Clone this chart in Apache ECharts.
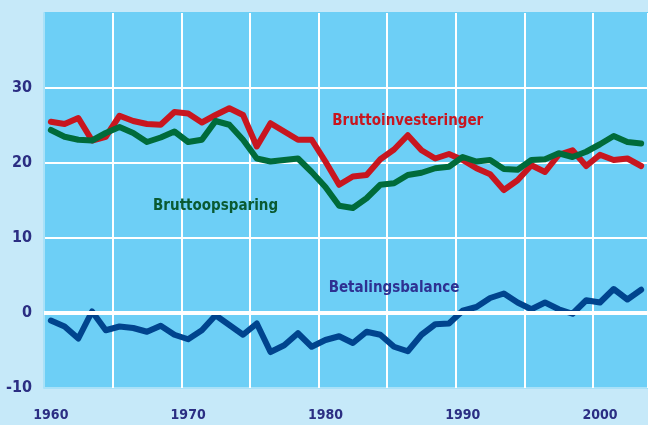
<!DOCTYPE html>
<html lang="da" style="height: 100%">
  <head>
    <meta charset="utf-8" />
  </head>
  <body style="height: 100%; margin: 0; background: #c6e9f9">
    <div id="container" style="width: 648px; height: 425px"></div>
    <script
      type="text/javascript"
      src="https://cdn.jsdelivr.net/npm/echarts@6/dist/echarts.min.js"
    ></script>
    <script type="text/javascript">
      // årstal
      const years = [
        "1960", "1961", "1962", "1963", "1964", "1965", "1966", "1967", "1968", "1969",
        "1970", "1971", "1972", "1973", "1974", "1975", "1976", "1977", "1978", "1979",
        "1980", "1981", "1982", "1983", "1984", "1985", "1986", "1987", "1988", "1989",
        "1990", "1991", "1992", "1993", "1994", "1995", "1996", "1997", "1998", "1999",
        "2000", "2001", "2002", "2003",
      ];
      const bruttoinvesteringer = [
        25.5, 25.2, 26.0, 23.0, 23.5, 26.3, 25.6, 25.2, 25.1, 26.8,
        26.6, 25.4, 26.4, 27.3, 26.4, 22.2, 25.3, 24.2, 23.1, 23.1,
        20.2, 17.1, 18.2, 18.4, 20.5, 21.8, 23.7, 21.7, 20.6, 21.2,
        20.4, 19.3, 18.5, 16.4, 17.7, 19.7, 18.8, 21.1, 21.7, 19.6,
        21.1, 20.4, 20.6, 19.6,
      ];
      const bruttoopsparing = [
        24.4, 23.5, 23.1, 23.0, 24.0, 24.8, 24.0, 22.8, 23.4, 24.2,
        22.8, 23.1, 25.6, 25.1, 23.1, 20.6, 20.2, 20.4, 20.6, 18.8,
        16.8, 14.3, 14.0, 15.3, 17.1, 17.3, 18.4, 18.7, 19.3, 19.5,
        20.8, 20.2, 20.4, 19.2, 19.1, 20.4, 20.5, 21.3, 20.8, 21.5,
        22.5, 23.6, 22.8, 22.6,
      ];
      const betalingsbalance = [
        -1.0, -1.8, -3.4, 0.2, -2.3, -1.8, -2.0, -2.5, -1.7, -2.9,
        -3.5, -2.3, -0.3, -1.6, -2.9, -1.4, -5.2, -4.3, -2.7, -4.5,
        -3.6, -3.1, -4.0, -2.5, -2.9, -4.5, -5.1, -2.9, -1.5, -1.4,
        0.3, 0.8, 2.0, 2.6, 1.4, 0.5, 1.4, 0.5, -0.1, 1.7,
        1.4, 3.2, 1.8, 3.1,
      ];
      // etiketter: [tekst, år, værdi]
      const seriesLabels = [
        ["Bruttoinvesteringer", "1986", 25.6],
        ["Bruttoopsparing", "1972", 14.3],
        ["Betalingsbalance", "1985", 3.3],
      ];
      const yTicks = { min: -10, max: 40, interval: 10 };

      const FONT = "'Liberation Sans Narrow', 'DejaVu Sans Condensed', sans-serif";
      const RED = "#c8161f";
      const GREEN = "#006b3a";
      const BLUE = "#00448e";

      function labelPoint(i, color) {
        return {
          symbol: "circle",
          symbolSize: 1,
          itemStyle: { color: "rgba(0,0,0,0)" },
          label: {
            show: true,
            position: "inside",
            formatter: seriesLabels[i][0],
            color: color,
            fontFamily: FONT,
            fontWeight: "bold",
            fontSize: 15,
          },
          data: [{ coord: [seriesLabels[i][1], seriesLabels[i][2]] }],
        };
      }

      var dom = document.getElementById("container");
      var myChart = echarts.init(dom, null, { renderer: "canvas" });
      var option = {
        backgroundColor: "#c6e9f9",
        animation: false,
        grid: {
          left: 44,
          right: 0,
          top: 13,
          bottom: 37,
          show: true,
          backgroundColor: "#6dcff6",
          borderWidth: 0,
        },
        xAxis: {
          type: "category",
          data: years,
          boundaryGap: true,
          axisLine: { show: false },
          axisTick: { show: false },
          axisLabel: {
            interval: 9,
            margin: 20,
            color: "#2b2e83",
            fontFamily: FONT,
            fontWeight: "bold",
            fontSize: 14,
          },
          splitLine: {
            show: true,
            interval: function (idx) {
              return idx > 0 && idx % 5 === 0;
            },
            lineStyle: { color: "#ffffff", width: 2 },
          },
        },
        yAxis: {
          type: "value",
          min: yTicks.min,
          max: yTicks.max,
          interval: yTicks.interval,
          axisLine: { show: true, lineStyle: { color: "#a9e1f8", width: 2 } },
          axisTick: { show: false },
          axisLabel: {
            margin: 12,
            color: "#2b2e83",
            fontFamily: FONT,
            fontWeight: "bold",
            fontSize: 16,
            formatter: function (v) {
              return v === yTicks.max ? "" : String(v);
            },
          },
          splitLine: {
            show: true,
            lineStyle: {
              color: ["#a9e1f8", "#ffffff", "#ffffff", "#ffffff", "#ffffff", "#6dcff6"],
              width: 2,
            },
          },
        },
        series: [
          {
            name: "Bruttoinvesteringer",
            type: "line",
            data: bruttoinvesteringer,
            showSymbol: false,
            lineStyle: { color: RED, width: 6, join: "round", cap: "round" },
            markLine: {
              silent: true,
              symbol: "none",
              label: { show: false },
              lineStyle: { color: "#ffffff", width: 4, type: "solid" },
              data: [{ yAxis: 0 }],
            },
            markPoint: labelPoint(0, RED),
          },
          {
            name: "Bruttoopsparing",
            type: "line",
            data: bruttoopsparing,
            showSymbol: false,
            lineStyle: { color: GREEN, width: 6, join: "round", cap: "round" },
            markPoint: labelPoint(1, "#0a5a32"),
          },
          {
            name: "Betalingsbalance",
            type: "line",
            data: betalingsbalance,
            showSymbol: false,
            lineStyle: { color: BLUE, width: 6, join: "round", cap: "round" },
            markPoint: labelPoint(2, "#2e3192"),
          },
        ],
      };
      myChart.setOption(option);
      window.addEventListener("resize", myChart.resize);
    </script>
  </body>
</html>
